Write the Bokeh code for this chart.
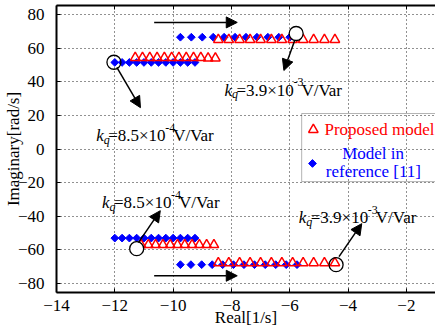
from bokeh.plotting import figure
from bokeh.models import (Range1d, FixedTicker, LinearAxis, Arrow, NormalHead,
                          Label, BoxAnnotation)
from bokeh.embed import file_html
from bokeh.resources import INLINE

# ---------------- data ----------------
x_ticks = [-14, -12, -10, -8, -6, -4, -2]
y_ticks = [-80, -60, -40, -20, 0, 20, 40, 60, 80]

# Proposed model (red open triangles)
prop_up1_x = [-11.3, -11.05, -10.8, -10.55, -10.3, -10.05, -9.8, -9.55, -9.3, -9.05, -8.8, -8.55]
prop_up1_y = [54.3, 54.3, 54.3, 54.3, 54.3, 54.3, 54.3, 54.3, 54.3, 54.3, 54.0, 54.0]
prop_up2_x = [-8.45, -8.09, -7.72, -7.36, -7.0, -6.63, -6.27, -5.9, -5.54, -5.18, -4.81, -4.45]
prop_up2_y = [65.0] * 12
prop_lo1_x = [-11.1, -10.85, -10.6, -10.35, -10.1, -9.85, -9.6, -9.35, -9.1, -8.85, -8.6]
prop_lo1_y = [-57.0] * 11
prop_lo2_x = [-8.45, -8.09, -7.72, -7.36, -7.0, -6.63, -6.27, -5.9, -5.54, -5.18, -4.81, -4.45]
prop_lo2_y = [-67.8] * 12

# Model in reference [11] (blue diamonds)
ref_up1_x = [-12.0, -11.75, -11.5, -11.25, -11.0, -10.75, -10.5, -10.25, -10.0, -9.75, -9.5, -9.25]
ref_up1_y = [51.5] * 12
ref_up2_x = [-9.75, -9.375, -9.0, -8.625, -8.25, -7.875, -7.5, -7.125, -6.75, -6.375, -6.0]
ref_up2_y = [66.5] * 11
ref_lo1_x = [-12.0, -11.75, -11.5, -11.25, -11.0, -10.75, -10.5, -10.25, -10.0, -9.75, -9.5, -9.25]
ref_lo1_y = [-53.0] * 12
ref_lo2_x = [-9.75, -9.39, -9.02, -8.66, -8.3, -7.93, -7.57, -7.21, -6.84, -6.48, -6.12, -5.75]
ref_lo2_y = [-68.8] * 12

# highlighted points (circles)
circ_x = [-12.03, -5.78, -11.25, -4.41]
circ_y = [51.6, 68.7, -59.3, -68.8]
circ_fill = [None, "white", "white", None]

# kq annotations: (left x, baseline y, kq value, exponent)
ann_x = [-12.64, -8.24, -12.44, -5.69]
ann_y = [8.0, 35.0, -32.0, -41.0]
ann_val = ["8.5", "3.9", "8.5", "3.9"]
ann_exp = ["-4", "-3", "-4", "-3"]

# arrows: start / end
arr_x0 = [-10.65, -10.65, -11.93, -5.83, -11.19, -4.31]
arr_y0 = [75.3, -75.4, 48.5, 64.5, -55.7, -64.0]
arr_x1 = [-7.8, -7.8, -11.12, -6.2, -10.44, -3.53]
arr_y1 = [75.3, -75.4, 24.6, 46.7, -36.7, -44.4]

RED = "#FF0000"
BLUE = "#0000FF"
FONT = "'Liberation Serif', 'Times New Roman', serif"
FS = "17px"

Y0, Y1 = -85.36, 85.36
FRAME_H = 287
p = figure(output_backend="svg", toolbar_location=None,
           width=435, height=333,
           min_border_left=52, min_border_right=0, min_border_top=5, min_border_bottom=41,
           x_range=Range1d(-14, -1), y_range=Range1d(Y0, Y1))
p.outline_line_color = None
p.background_fill_color = "white"
p.border_fill_color = "white"

for ax in (p.xaxis, p.yaxis):
    ax.axis_line_width = 2
    ax.major_tick_in = 4
    ax.major_tick_out = 0
    ax.minor_tick_line_color = None
    ax.major_label_text_font = FONT
    ax.major_label_text_font_size = FS
    ax.major_label_text_color = "black"
    ax.axis_label_text_font = FONT
    ax.axis_label_text_font_size = FS
    ax.axis_label_text_font_style = "normal"
    ax.axis_label_text_color = "black"
p.xaxis.ticker = FixedTicker(ticks=x_ticks)
p.yaxis.ticker = FixedTicker(ticks=y_ticks)
p.xaxis.axis_label = "Real[1/s]"
p.yaxis.axis_label = "Imaginary[rad/s]"
p.xaxis.major_label_standoff = 7
p.yaxis.major_label_standoff = 12
p.xaxis.axis_label_standoff = -6
p.yaxis.axis_label_standoff = -8

# top frame line with inward ticks, no labels drawn
top_axis = LinearAxis(ticker=FixedTicker(ticks=x_ticks), major_label_text_font_size="1px",
                      major_label_text_color=None,
                      major_tick_in=4, major_tick_out=0, minor_tick_line_color=None,
                      axis_line_width=2, major_label_standoff=0)
p.add_layout(top_axis, "above")

p.grid.grid_line_color = "#222222"
p.grid.grid_line_dash = "1 3"
p.grid.grid_line_width = 1
p.xgrid.ticker = FixedTicker(ticks=x_ticks)
p.ygrid.ticker = FixedTicker(ticks=y_ticks)

# legend box (transparent)
p.add_layout(BoxAnnotation(left=-5.59, right=-0.5, top=21.1, bottom=-19.4,
                           fill_alpha=0, line_color="black", line_width=1))

# markers
for xs, ys in [(ref_up1_x, ref_up1_y), (ref_up2_x, ref_up2_y), (ref_lo1_x, ref_lo1_y), (ref_lo2_x, ref_lo2_y)]:
    p.scatter(xs, ys, marker="square", angle=0.785398, size=5.5, fill_color=BLUE, line_color=BLUE, line_width=1)
for xs, ys in [(prop_up1_x, prop_up1_y), (prop_up2_x, prop_up2_y), (prop_lo1_x, prop_lo1_y), (prop_lo2_x, prop_lo2_y)]:
    p.scatter(xs, ys, marker="triangle", size=9.5, fill_color=None, line_color=RED, line_width=1.5)

# circles
for cx, cy, cf in zip(circ_x, circ_y, circ_fill):
    p.scatter([cx], [cy], marker="circle", size=14, fill_color=cf, line_color="black", line_width=1.3)

# arrows
for x0, y0, x1, y1 in zip(arr_x0, arr_y0, arr_x1, arr_y1):
    p.add_layout(Arrow(end=NormalHead(size=11, fill_color="black", line_color="black"),
                       x_start=x0, y_start=y0, x_end=x1, y_end=y1,
                       line_color="black", line_width=1.5))

# kq annotations
PXY = (Y1 - Y0) / FRAME_H  # data units per pixel (y)
for ax_, ay_, val, ex in zip(ann_x, ann_y, ann_val, ann_exp):
    pieces = [
        ("k", 0, 0, FS, "italic"),
        ("q", 7.5, -4, "12px", "italic"),
        ("=" + val + "\u00d710", 12, 0, FS, "normal"),
        (ex, 69, 8, "12px", "normal"),
        ("V/Var", 77, 0, FS, "normal"),
    ]
    for txt, dx, dy, fs, st in pieces:
        p.add_layout(Label(x=ax_, y=ay_ + dy * PXY, x_offset=dx, text=txt,
                           text_font=FONT, text_font_size=fs, text_font_style=st,
                           text_color="black", text_baseline="alphabetic", text_align="left"))

# legend content
p.scatter([-5.19], [11.5], marker="triangle", size=9.5, fill_color=None, line_color=RED, line_width=1.5)
p.scatter([-5.22], [-8.6], marker="square", angle=0.785398, size=5.5, fill_color=BLUE, line_color=BLUE)
p.add_layout(Label(x=-4.81, y=11.5, text="Proposed model", text_font=FONT, text_font_size=FS,
                   text_color=RED, text_baseline="middle", text_align="left"))
p.add_layout(Label(x=-3.14, y=-2.7, text="Model in", text_font=FONT, text_font_size=FS,
                   text_color=BLUE, text_baseline="middle", text_align="center"))
p.add_layout(Label(x=-3.13, y=-13.5, text="reference [11]", text_font=FONT, text_font_size=FS,
                   text_color=BLUE, text_baseline="middle", text_align="center"))

open("out.html", "w").write(file_html(p, INLINE))
